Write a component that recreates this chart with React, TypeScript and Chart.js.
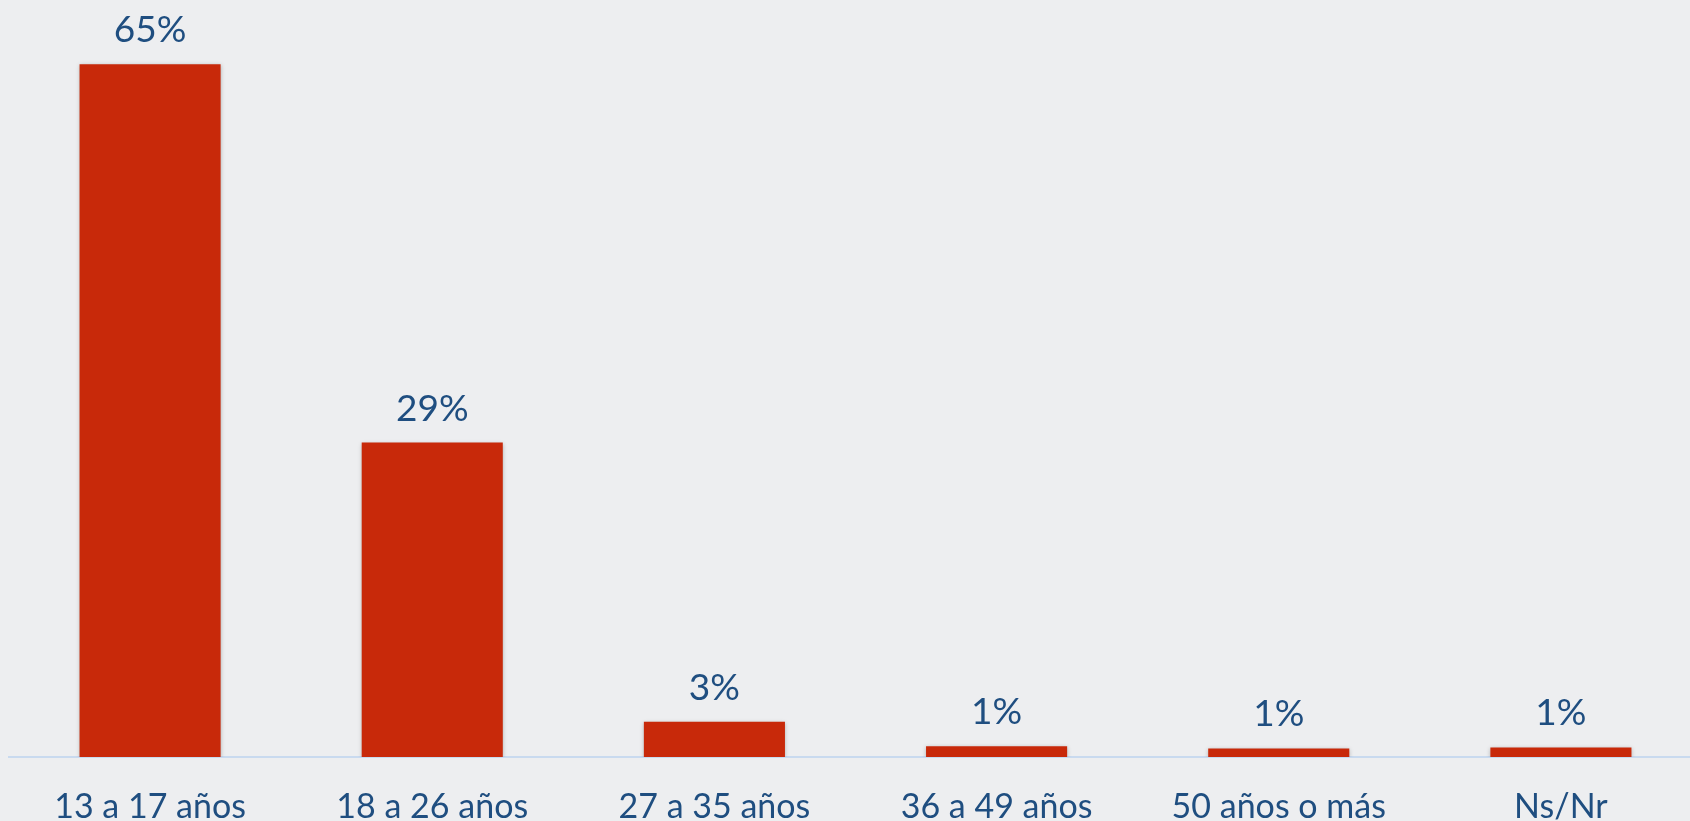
import React, { useEffect, useRef } from "react";
import { Chart, registerables } from "chart.js";

Chart.register(...registerables);

const categories = ["13 a 17 años", "18 a 26 años", "27 a 35 años", "36 a 49 años", "50 años o más", "Ns/Nr"];
const values = [65, 29.5, 3.3, 1.0, 0.8, 0.9];
const valueLabels = ["65%", "29%", "3%", "1%", "1%", "1%"];

const BG = "#EDEEF0";
const BAR = "#C8290A";
const TEXT = "#1F4E80";
const FONT = "Lato";

const bgPlugin = {
  id: "bg",
  beforeDraw(chart: any) {
    const ctx = chart.ctx;
    ctx.save();
    ctx.fillStyle = BG;
    ctx.fillRect(0, 0, chart.width, chart.height);
    ctx.restore();
  },
};

const shadowPlugin = {
  id: "barShadow",
  beforeDatasetsDraw(chart: any) {
    const ctx = chart.ctx;
    ctx.save();
    ctx.shadowColor = "rgba(0,0,0,0.25)";
    ctx.shadowBlur = 4;
    ctx.shadowOffsetX = 0;
    ctx.shadowOffsetY = 1;
  },
  afterDatasetsDraw(chart: any) {
    chart.ctx.restore();
  },
};

const labelPlugin = {
  id: "valueLabels",
  afterDatasetsDraw(chart: any) {
    const ctx = chart.ctx;
    const meta = chart.getDatasetMeta(0);
    ctx.save();
    ctx.fillStyle = TEXT;
    ctx.font = `37px ${FONT}`;
    ctx.textAlign = "center";
    ctx.textBaseline = "alphabetic";
    meta.data.forEach((bar: any, i: number) => {
      ctx.fillText(valueLabels[i], bar.x, bar.y - 22);
    });
    ctx.restore();
  },
};

export default function App() {
  const ref = useRef<HTMLCanvasElement>(null);
  useEffect(() => {
    document.body.style.margin = "0";
    document.body.style.overflow = "hidden";
    document.documentElement.style.overflow = "hidden";
    document.body.style.background = BG;
    const chart = new Chart(ref.current!, {
      type: "bar",
      data: {
        labels: categories,
        datasets: [
          {
            data: values,
            backgroundColor: BAR,
            barPercentage: 0.5,
            categoryPercentage: 1,
          },
        ],
      },
      options: {
        animation: false,
        responsive: false,
        maintainAspectRatio: false,
        layout: { padding: { left: 9, right: 0, top: 11, bottom: 0 } },
        plugins: { legend: { display: false }, tooltip: { enabled: false } },
        scales: {
          x: {
            grid: { display: false, drawTicks: false },
            border: { display: true, color: "#C9DAEF", width: 2 },
            ticks: {
              color: TEXT,
              font: { family: FONT, size: 34 },
              padding: 30,
              maxRotation: 0,
              autoSkip: false,
            },
            afterFit(scale: any) {
              scale.height = 64;
            },
          },
          y: {
            display: false,
            min: 0,
            max: 70,
          },
        },
      },
      plugins: [bgPlugin, shadowPlugin, labelPlugin],
    });
    return () => chart.destroy();
  }, []);
  return (
    <div style={{ width: 1702, height: 821 }}>
      <canvas ref={ref} width={1702} height={821} style={{ display: "block" }} />
    </div>
  );
}
